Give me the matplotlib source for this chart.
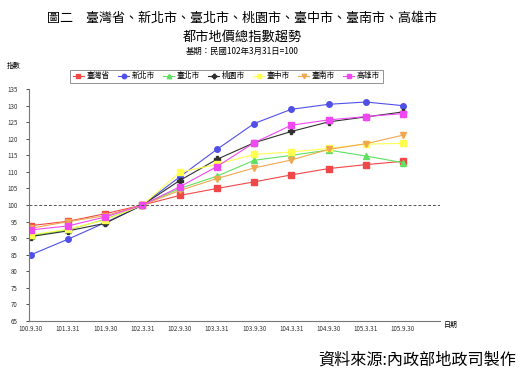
import matplotlib
matplotlib.use('Agg')
import matplotlib.pyplot as plt

plt.rcParams['font.family'] = ['Noto Sans CJK TC', 'DejaVu Sans']

# dates (ROC calendar)
dates = ['100.9.30', '101.3.31', '101.9.30', '102.3.31', '102.9.30', '103.3.31',
         '103.9.30', '104.3.31', '104.9.30', '105.3.31', '105.9.30']

# index values (base 102.3.31 = 100)
taiwan    = [93.8, 95.1, 97.4, 100, 102.9, 105.0, 107.0, 109.1, 111.0, 112.2, 113.2]
new_taipei = [85.0, 89.7, 94.7, 100, 108.5, 116.8, 124.6, 128.9, 130.4, 131.1, 130.0]
taipei    = [90.8, 92.5, 95.7, 100, 105.0, 108.7, 113.5, 115.0, 116.6, 114.8, 112.8]
taoyuan   = [90.5, 92.2, 94.5, 100, 107.4, 113.8, 118.8, 122.2, 125.1, 126.6, 128.1]
taichung  = [91.0, 92.7, 95.5, 100, 109.9, 112.3, 115.3, 116.0, 117.1, 118.4, 118.6]
tainan    = [93.0, 95.0, 96.8, 100, 104.4, 108.0, 111.2, 113.6, 116.8, 118.5, 121.1]
kaohsiung = [92.5, 93.7, 96.4, 100, 105.5, 111.6, 118.8, 124.1, 125.7, 126.7, 127.6]

names = ['臺灣省', '新北市', '臺北市', '桃園市', '臺中市', '臺南市', '高雄市']
series = [taiwan, new_taipei, taipei, taoyuan, taichung, tainan, kaohsiung]
colors = ['#F04848', '#5050E8', '#60E060', '#303030', '#FFFF50', '#F0A850', '#F048F0']
markers = ['s', 'o', '^', 'P', 's', 'v', 's']

fig = plt.figure(figsize=(5.24, 3.84), dpi=100)
ax = fig.add_axes([0.0553, 0.164, 0.7847, 0.604])

x = list(range(len(dates)))
for name, vals, col, mk in zip(names, series, colors, markers):
    ax.plot(x, vals, color=col, marker=mk, markersize=4, linewidth=0.8, label=name)

ax.axhline(100, color='#555555', linestyle='--', linewidth=0.7, dashes=(3, 2))

ax.set_xlim(-0.05, 11)
ax.set_ylim(65, 135)
ax.set_yticks(range(65, 136, 5))
ax.set_xticks(x)
ax.set_xticklabels(dates)
ax.tick_params(axis='x', length=0, labelsize=4.5, pad=3, colors='#333333')
ax.tick_params(axis='y', length=2, width=0.6, labelsize=4.5, pad=6, colors='#333333')
for s in ['top', 'right']:
    ax.spines[s].set_visible(False)
for s in ['left', 'bottom']:
    ax.spines[s].set_color('#777777')
    ax.spines[s].set_linewidth(0.8)

leg = fig.legend(loc='center', bbox_to_anchor=(0.432, 0.801), ncol=7, fontsize=5.6,
                 frameon=True, fancybox=False, edgecolor='#777777', handlelength=1.5,
                 columnspacing=1.0, handletextpad=0.3, borderpad=0.35, markerscale=0.8)
leg.get_frame().set_linewidth(0.7)

fig.text(0.461, 0.953, '圖二　臺灣省、新北市、臺北市、桃園市、臺中市、臺南市、高雄市',
         ha='center', va='center', fontsize=9.4)
fig.text(0.463, 0.903, '都市地價總指數趨勢', ha='center', va='center', fontsize=9.5)
fig.text(0.463, 0.867, '基期：民國102年3月31日=100', ha='center', va='center', fontsize=6)
fig.text(0.027, 0.828, '指數', ha='center', va='center', fontsize=5)
fig.text(0.861, 0.154, '日期', ha='center', va='center', fontsize=5)
fig.text(0.796, 0.062, '資料來源:內政部地政司製作', ha='center', va='center', fontsize=11.6)

fig.savefig('out.png', dpi=100)
